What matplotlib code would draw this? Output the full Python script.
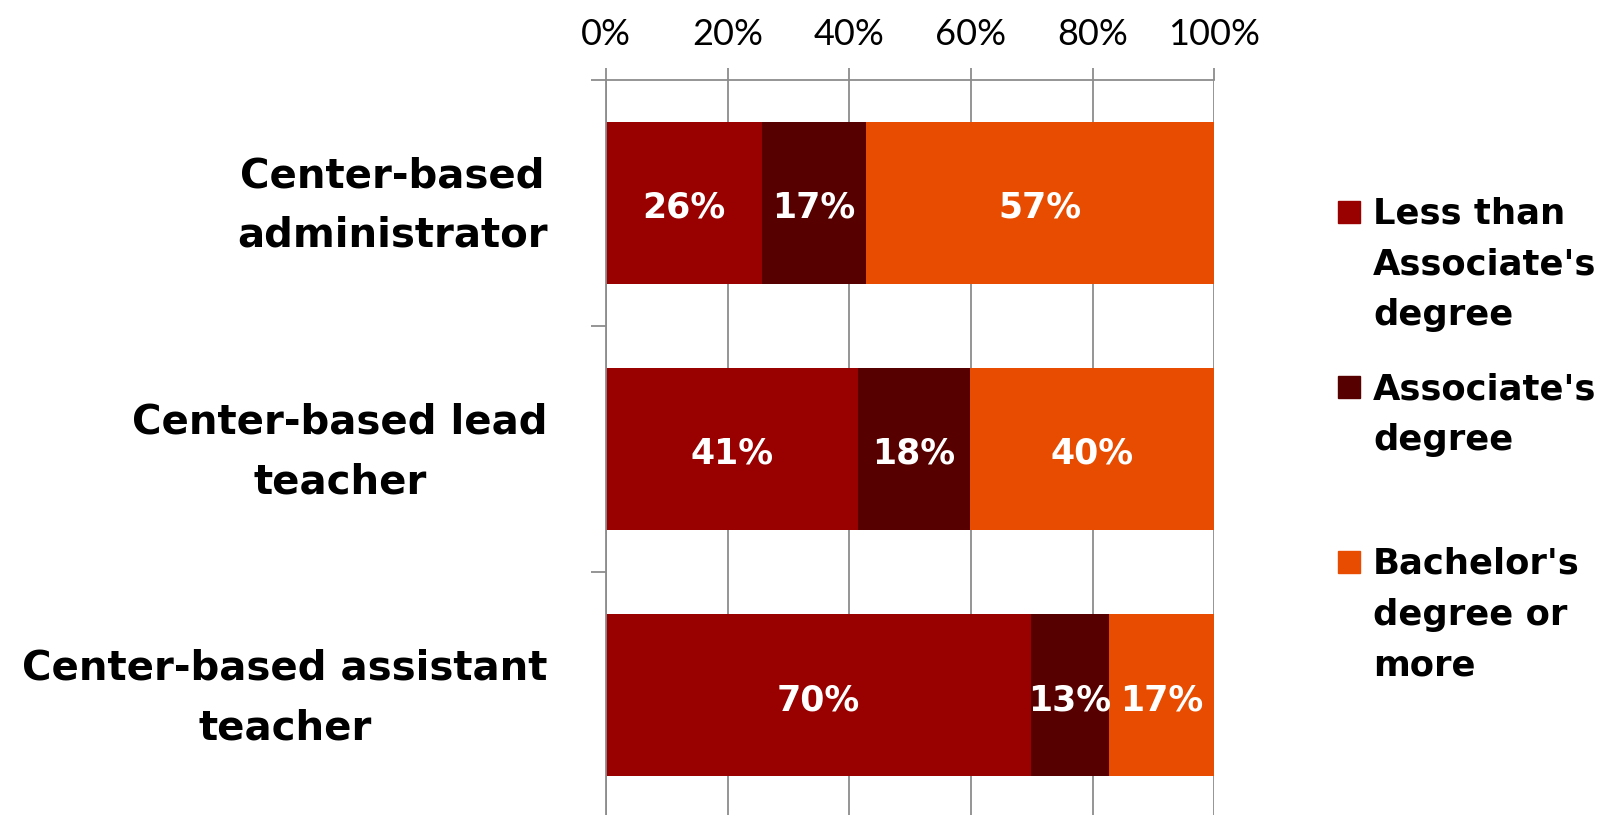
import matplotlib
matplotlib.use("Agg")
import matplotlib.pyplot as plt
import matplotlib.patches as patches
import numpy as np

plt.rcParams['font.family'] = ['DejaVu Sans']

# Highest education level by role (percent of staff)
roles = ['Center-based\nadministrator',
         'Center-based lead\nteacher',
         'Center-based assistant\nteacher']
series = ["Less than\nAssociate's\ndegree",
          "Associate's\ndegree",
          "Bachelor's\ndegree or\nmore"]
less_than_assoc = [25.6, 41.4, 69.9]
associate = [17.2, 18.4, 12.8]
bachelor = [57.2, 40.2, 17.3]
x_ticks = [0, 20, 40, 60, 80, 100]

colors = ['#990000', '#560000', '#E84C00']
grid_gray = '#8C8C8C'

fig = plt.figure(figsize=(16.07, 8.15), dpi=100)
ax = fig.add_axes([0.377, -0.004, 0.3787, 0.906])

y = np.arange(len(roles))
left = np.zeros(len(roles))
for vals, col in zip([less_than_assoc, associate, bachelor], colors):
    vals = np.array(vals)
    ax.barh(y, vals, left=left, height=0.66, color=col, zorder=2)
    for yi, l, v in zip(y, left, vals):
        ax.text(l + v / 2, yi + 0.02, f"{v:.0f}%", ha='center', va='center',
                color='white', fontsize=25, fontweight='bold', zorder=3)
    left += vals

ax.set_xlim(0, 100)
ax.set_ylim(2.5, -0.5)

# percent axis on top, vertical gridlines
ax.xaxis.tick_top()
ax.set_xticks(x_ticks)
ax.set_xticklabels([f"{t}%" for t in x_ticks], fontsize=26, family='Lato')
ax.tick_params(axis='x', which='major', direction='out', length=9,
               width=1.3, color=grid_gray, pad=12)
ax.grid(axis='x', color=grid_gray, linewidth=1.3, zorder=0)
ax.set_axisbelow(True)

# category labels (tick marks hidden, nudged up to sit on the bar centre)
ax.set_yticks(y - 0.045)
ax.set_yticklabels(roles, fontsize=29, fontweight='bold')
for lab in ax.get_yticklabels():
    lab.set_multialignment('center')
    lab.set_linespacing(1.63)
ax.tick_params(axis='y', which='major', length=0, pad=42)
# boundary ticks between groups
ax.set_yticks([-0.5, 0.5, 1.5], minor=True)
ax.tick_params(axis='y', which='minor', direction='out', length=11,
               width=1.3, color=grid_gray)

for side in ['right', 'bottom']:
    ax.spines[side].set_visible(False)
for side in ['left', 'top']:
    ax.spines[side].set_color(grid_gray)
    ax.spines[side].set_linewidth(1.3)

# legend: square swatch beside the first line of each entry
W, H = fig.get_size_inches() * fig.dpi
for i, (name, col) in enumerate(zip(series, colors)):
    yc = 212 + 175 * i
    fig.patches.append(patches.Rectangle((1338 / W, 1 - (yc + 11) / H),
                                         22 / W, 22 / H, color=col,
                                         transform=fig.transFigure))
    fig.text(1373 / W, 1 - (yc - 15) / H, name, ha='left', va='top',
             fontsize=25.5, fontweight='bold', linespacing=1.62)

fig.savefig('out.png', dpi=100)
